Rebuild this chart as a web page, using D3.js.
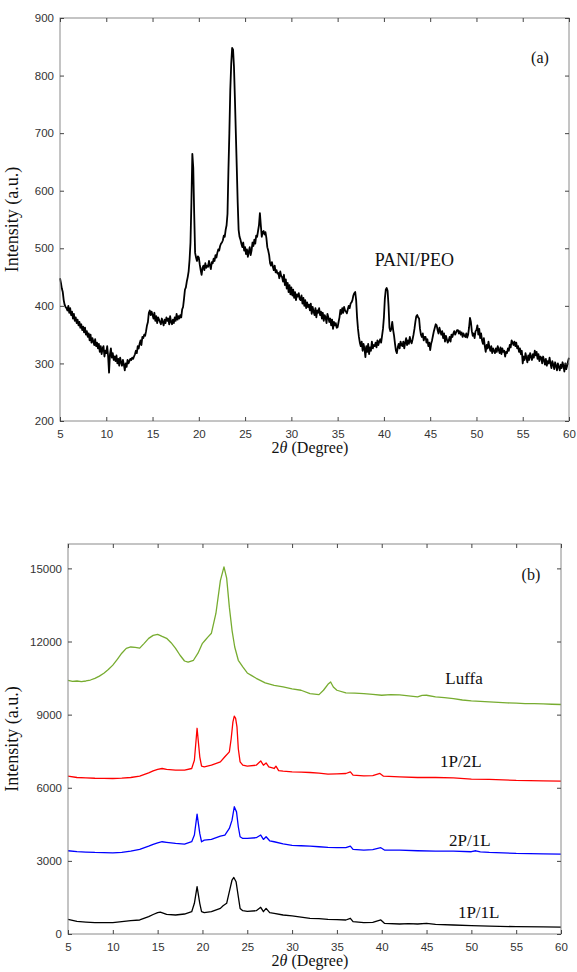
<!DOCTYPE html>
<html>
<head>
<meta charset="utf-8">
<script src="https://cdn.jsdelivr.net/npm/d3@7"></script>
<style>
  body { margin: 0; background: #fff; }
  .tick text { font-family: "Liberation Sans", Arial, sans-serif; font-size: 11.5px; fill: #333; }
  .tick line { stroke: #444; }
  .domain { stroke: none; }
  .lbl { font-family: "Liberation Serif", "DejaVu Serif", serif; fill: #111; }
</style>
</head>
<body>
<svg id="chart" width="577" height="972"></svg>
<script>
// ---- (a) PANI/PEO, sampled every 0.1 degree starting at 5 ----
var paniStart = 5, paniStep = 0.1;
var paniCounts = [
  448, 440, 430, 424, 410, 402, 398, 396, 392, 400,
  388, 396, 384, 390, 378, 386, 374, 380, 370, 376,
  366, 372, 362, 368, 358, 364, 354, 362, 350, 356,
  346, 352, 340, 350, 336, 344, 338, 332, 342, 330,
  336, 326, 334, 320, 330, 316, 326, 330, 312, 322,
  318, 330, 312, 284, 316, 326, 310, 318, 306, 312,
  304, 314, 300, 308, 296, 310, 302, 296, 306, 298,
  288, 300, 294, 306, 300, 304, 308, 306, 310, 308,
  312, 316, 322, 318, 330, 326, 334, 340, 332, 346,
  344, 350, 348, 356, 366, 372, 388, 392, 384, 390,
  384, 378, 388, 374, 382, 370, 380, 376, 372, 368,
  378, 372, 366, 376, 370, 380, 374, 378, 368, 382,
  372, 368, 376, 370, 380, 374, 386, 376, 382, 378,
  384, 380, 394, 398, 412, 428, 432, 442, 450, 460,
  480, 510, 580, 664, 640, 560, 492, 484, 478, 486,
  484, 472, 462, 454, 466, 470, 462, 474, 466, 470,
  468, 478, 470, 464, 476, 474, 482, 478, 488, 484,
  492, 498, 496, 504, 508, 510, 514, 522, 520, 532,
  540, 560, 636, 700, 775, 820, 848, 845, 815, 760,
  700, 641, 580, 532, 520, 515, 508, 502, 510, 496,
  502, 490, 498, 485, 494, 502, 488, 496, 510, 504,
  515, 508, 522, 520, 530, 540, 561, 540, 520, 528,
  530, 524, 528, 518, 502, 496, 488, 474, 470, 476,
  468, 462, 470, 458, 462, 456, 457, 448, 460, 452,
  450, 442, 454, 436, 446, 430, 440, 424, 436, 420,
  432, 418, 428, 414, 424, 410, 420, 416, 422, 412,
  410, 418, 404, 414, 400, 410, 396, 406, 398, 402,
  392, 404, 386, 398, 390, 384, 396, 380, 392, 388,
  396, 384, 390, 378, 388, 374, 384, 380, 370, 386,
  380, 372, 378, 366, 376, 360, 372, 366, 370, 362,
  363, 372, 380, 393, 386, 396, 388, 398, 392, 390,
  387, 394, 400, 396, 404, 406, 410, 418, 422, 424,
  410, 380, 360, 346, 336, 330, 338, 322, 334, 326,
  311, 330, 320, 334, 316, 328, 322, 338, 326, 332,
  330, 336, 328, 340, 332, 338, 342, 336, 348, 360,
  380, 412, 428, 431, 426, 400, 362, 356, 360, 372,
  358, 348, 334, 322, 318, 328, 334, 326, 338, 332,
  330, 338, 326, 336, 344, 332, 340, 334, 346, 338,
  335, 342, 350, 360, 372, 382, 384, 380, 378, 360,
  350, 346, 352, 340, 346, 346, 336, 342, 330, 336,
  323, 334, 340, 348, 356, 362, 368, 366, 358, 352,
  362, 356, 350, 356, 344, 352, 338, 348, 342, 336,
  340, 346, 338, 350, 346, 352, 356, 350, 354, 358,
  358, 352, 356, 350, 354, 346, 352, 348, 346, 352,
  345, 350, 362, 379, 372, 356, 348, 352, 344, 356,
  358, 366, 350, 360, 344, 352, 340, 334, 344, 330,
  320, 332, 326, 338, 328, 322, 330, 318, 326, 322,
  318, 326, 320, 330, 324, 318, 328, 316, 326, 320,
  322, 312, 320, 318, 326, 322, 332, 328, 340, 336,
  332, 338, 330, 336, 326, 330, 320, 326, 316, 322,
  300, 312, 306, 318, 310, 302, 314, 306, 318, 312,
  306, 316, 310, 322, 314, 320, 308, 316, 304, 312,
  310, 300, 312, 306, 298, 308, 296, 304, 300, 310,
  300, 292, 304, 298, 290, 302, 296, 288, 300, 294,
  288, 298, 292, 302, 296, 286, 300, 290, 296, 304,
  310
];
var ticksA_x = [5, 10, 15, 20, 25, 30, 35, 40, 45, 50, 55, 60];
var ticksA_y = [200, 300, 400, 500, 600, 700, 800, 900];

// ---- (b) composites ----
var luffaAngle = [5, 5.5, 6, 6.5, 7, 7.5, 8, 8.5, 9, 9.5, 10, 10.5, 11, 11.5, 12, 12.5, 13, 13.5, 14, 14.5,
  15, 15.5, 16, 16.5, 17, 17.5, 18, 18.4, 19, 19.5, 20, 20.3, 20.6, 21, 21.5, 22, 22.4, 22.7, 23, 23.3,
  23.6, 24, 24.5, 25, 25.5, 26, 27, 28, 29, 30, 31, 32, 33, 33.5, 34, 34.3, 34.6, 35, 36, 37,
  38, 39, 40, 41, 42, 43, 44, 44.5, 45, 46, 47, 48, 49, 50, 51, 52, 53, 54, 55, 56, 57, 58, 59, 60];
var luffaCounts = [10410, 10360, 10380, 10350, 10380, 10420, 10490, 10580, 10700, 10850, 11030, 11270, 11520, 11720, 11775, 11760, 11730, 11925, 12130, 12250,
  12295, 12210, 12130, 11950, 11720, 11435, 11200, 11150, 11230, 11520, 11925, 12050, 12180, 12340, 13150, 14500, 15060, 14600, 13410, 12460,
  11775, 11230, 10955, 10710, 10600, 10490, 10300, 10200, 10135, 10060, 10000, 9865, 9820, 10000, 10245, 10340, 10135, 10000, 9890, 9880,
  9865, 9830, 9795, 9820, 9810, 9770, 9730, 9790, 9795, 9730, 9700, 9655, 9600, 9560, 9540, 9520, 9500, 9480, 9470, 9455, 9450, 9440, 9425, 9415];

var p1l2Angle = [5, 6, 7, 8, 9, 10, 11, 12, 13, 14, 14.5, 15, 15.5, 16, 17, 18, 18.8, 19.1, 19.4, 19.7,
  19.9, 20.2, 21, 22, 22.5, 23, 23.2, 23.4, 23.55, 23.7, 23.85, 24, 24.2, 24.5, 25, 26, 26.5, 26.8, 27.1, 27.4,
  28, 28.2, 28.5, 29, 30, 31, 32, 33, 34, 35, 36, 36.5, 36.8, 38, 39, 39.8, 40.2, 42, 44, 46,
  48, 50, 52, 55, 58, 60];
var p1l2Counts = [6475, 6420, 6405, 6390, 6385, 6380, 6395, 6420, 6475, 6610, 6690, 6750, 6790, 6750, 6720, 6720, 6790, 7130, 8440, 7270,
  6885, 6860, 6925, 7060, 7270, 7470, 8000, 8700, 8935, 8850, 8500, 7600, 7060, 6925, 6885, 6925, 7100, 6925, 7020, 6860,
  6790, 6885, 6700, 6680, 6650, 6640, 6625, 6600, 6560, 6570, 6585, 6650, 6515, 6490, 6500, 6585, 6475, 6450, 6420, 6420,
  6405, 6350, 6340, 6300, 6285, 6270];

var p2l1Angle = [5, 6, 7, 8, 9, 10, 11, 12, 13, 14, 14.5, 15, 15.5, 16, 17, 18, 18.8, 19.1, 19.4, 19.7,
  19.9, 20.2, 21, 22, 22.5, 23, 23.3, 23.55, 23.8, 24, 24.2, 24.5, 25, 26, 26.5, 26.8, 27.1, 27.5, 28, 29,
  30, 31, 32, 33, 34, 35, 36, 36.5, 36.8, 38, 39, 39.9, 40.3, 42, 44, 46, 48, 50, 50.5, 51,
  52, 55, 58, 60];
var p2l1Counts = [3415, 3380, 3360, 3345, 3340, 3330, 3350, 3400, 3470, 3605, 3680, 3740, 3785, 3760, 3715, 3690, 3785, 4060, 4920, 4125,
  3785, 3850, 3880, 4015, 4060, 4330, 4670, 5220, 5010, 4400, 3990, 3920, 3920, 3950, 4060, 3880, 3990, 3825, 3785, 3700,
  3640, 3620, 3605, 3580, 3550, 3545, 3540, 3605, 3470, 3445, 3460, 3540, 3445, 3445, 3415, 3400, 3400, 3375, 3415, 3370,
  3345, 3305, 3290, 3280];

var p1l1Angle = [5, 6, 7, 8, 9, 10, 11, 12, 13, 14, 14.5, 15, 15.3, 16, 17, 18, 18.8, 19.1, 19.4, 19.7,
  19.9, 20.2, 21, 22, 22.3, 22.7, 23, 23.3, 23.5, 23.75, 24, 24.2, 24.5, 25, 26, 26.5, 26.8, 27.1, 27.5, 28,
  29, 30, 31, 32, 33, 34, 35, 36, 36.5, 36.8, 38, 39, 39.9, 40.3, 42, 43, 44, 45, 46, 48,
  50, 52, 55, 58, 60];
var p1l1Counts = [600, 520, 490, 465, 470, 465, 505, 545, 575, 710, 800, 875, 900, 805, 780, 820, 915, 1260, 1940, 1260,
  915, 875, 915, 1050, 1160, 1260, 1735, 2215, 2320, 2145, 1530, 1050, 955, 930, 955, 1095, 915, 1050, 875, 850,
  780, 740, 690, 645, 630, 600, 590, 575, 645, 505, 465, 480, 575, 440, 410, 423, 410, 440, 395, 370,
  340, 326, 300, 290, 285];

var ticksB_x = [5, 10, 15, 20, 25, 30, 35, 40, 45, 50, 55, 60];
var ticksB_y = [0, 3000, 6000, 9000, 12000, 15000];

var seriesB = [
  { name: "Luffa", angle: luffaAngle, counts: luffaCounts, color: "#77AC30" },
  { name: "1P/2L", angle: p1l2Angle, counts: p1l2Counts, color: "#FF0000" },
  { name: "2P/1L", angle: p2l1Angle, counts: p2l1Counts, color: "#0000FF" },
  { name: "1P/1L", angle: p1l1Angle, counts: p1l1Counts, color: "#000000" }
];
var labelsB = [
  { text: "Luffa", x: 47.1, y: 10250 },
  { text: "1P/2L", x: 46.5, y: 6850 },
  { text: "2P/1L", x: 47.5, y: 3600 },
  { text: "1P/1L", x: 48.5, y: 650 }
];

var svg = d3.select("#chart");

function drawFrame(g, x, y, w, h, xt, yt) {
  g.append("rect").attr("width", w).attr("height", h)
    .attr("fill", "none").attr("stroke", "#8a8a8a").attr("stroke-width", 1);

  g.append("g").attr("transform", "translate(0," + h + ")")
    .call(d3.axisBottom(x).tickValues(xt).tickSizeInner(-4).tickSizeOuter(0).tickPadding(9));
  g.append("g")
    .call(d3.axisLeft(y).tickValues(yt).tickFormat(d3.format("d"))
      .tickSizeInner(-4).tickSizeOuter(0).tickPadding(6));
  g.append("g")
    .call(d3.axisTop(x).tickValues(xt).tickSizeInner(-4).tickSizeOuter(0).tickFormat(""));
  g.append("g").attr("transform", "translate(" + w + ",0)")
    .call(d3.axisRight(y).tickValues(yt).tickSizeInner(-4).tickSizeOuter(0).tickFormat(""));
}

function axisTitles(g, w, h, yLabelX) {
  // 2θ with an italic theta, laid out as separate pieces
  var base = h + 32;
  g.append("text").attr("class", "lbl")
    .attr("x", w / 2 - 35).attr("y", base)
    .attr("text-anchor", "end").style("font-size", "16px").text("2");
  g.append("text").attr("class", "lbl")
    .attr("x", w / 2 - 35).attr("y", base)
    .attr("text-anchor", "start").style("font-size", "16px").style("font-style", "italic")
    .text("\u03b8");
  g.append("text").attr("class", "lbl")
    .attr("x", w / 2 - 23).attr("y", base)
    .attr("text-anchor", "start").style("font-size", "16px").text("(Degree)");

  g.append("text").attr("class", "lbl")
    .attr("transform", "translate(" + yLabelX + "," + h / 2 + ") rotate(-90)")
    .attr("text-anchor", "middle").style("font-size", "18px")
    .text("Intensity (a.u.)");
}

// ---------- panel (a) ----------
var mA = { left: 60, top: 18, right: 569, bottom: 421 };
var wA = mA.right - mA.left, hA = mA.bottom - mA.top;
var gA = svg.append("g").attr("transform", "translate(" + mA.left + "," + mA.top + ")");
var xA = d3.scaleLinear().domain([5, 60]).range([0, wA]);
var yA = d3.scaleLinear().domain([200, 900]).range([hA, 0]);

var lineA = d3.line()
  .x(function(d, i) { return xA(paniStart + i * paniStep); })
  .y(function(d) { return yA(d); });

gA.append("path").datum(paniCounts)
  .attr("fill", "none").attr("stroke", "#000").attr("stroke-width", 1.8)
  .attr("stroke-linejoin", "round").attr("d", lineA);

drawFrame(gA, xA, yA, wA, hA, ticksA_x, ticksA_y);
axisTitles(gA, wA, hA, -42);

gA.append("text").attr("class", "lbl").attr("x", xA(39.0)).attr("y", yA(469))
  .style("font-size", "18px").text("PANI/PEO");
gA.append("text").attr("class", "lbl").attr("x", xA(55.9)).attr("y", yA(822))
  .style("font-size", "16px").text("(a)");

// ---------- panel (b) ----------
var mB = { left: 68, top: 544, right: 561, bottom: 934 };
var wB = mB.right - mB.left, hB = mB.bottom - mB.top;
var gB = svg.append("g").attr("transform", "translate(" + mB.left + "," + mB.top + ")");
var xB = d3.scaleLinear().domain([5, 60]).range([0, wB]);
var yB = d3.scaleLinear().domain([0, 16000]).range([hB, 0]);

seriesB.forEach(function(s) {
  var pts = s.angle.map(function(a, i) { return [a, s.counts[i]]; });
  gB.append("path").datum(pts)
    .attr("fill", "none").attr("stroke", s.color).attr("stroke-width", 1.3)
    .attr("stroke-linejoin", "round")
    .attr("d", d3.line().x(function(d) { return xB(d[0]); }).y(function(d) { return yB(d[1]); }));
});

drawFrame(gB, xB, yB, wB, hB, ticksB_x, ticksB_y);
axisTitles(gB, wB, hB, -50);

labelsB.forEach(function(l) {
  gB.append("text").attr("class", "lbl").attr("x", xB(l.x)).attr("y", yB(l.y))
    .style("font-size", "17px").text(l.text);
});
gB.append("text").attr("class", "lbl").attr("x", xB(55.6)).attr("y", yB(15000) + 12)
  .style("font-size", "16px").text("(b)");
</script>
</body>
</html>
